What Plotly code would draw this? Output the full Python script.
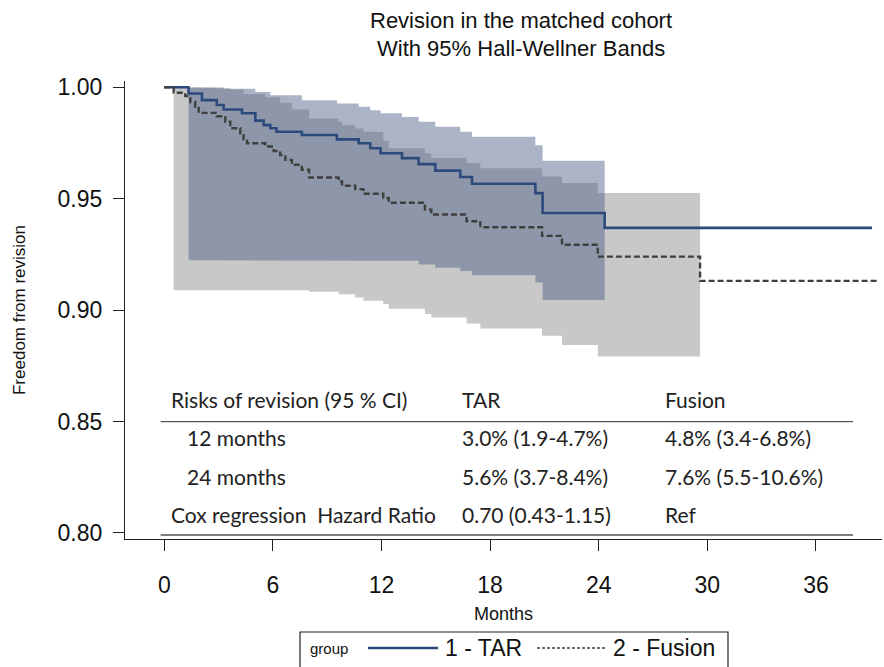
import plotly.graph_objects as go

# ---------------- data ----------------
# Kaplan-Meier step estimates (months, freedom from revision after each step)
tar_time = [0, 1.34, 2.08, 2.9, 3.28, 4.29, 5.03, 5.49, 5.86, 6.2, 7.6, 9.54, 10.74,
            11.38, 11.95, 13.13, 14.05, 14.97, 16.35, 17.0, 20.5, 20.9, 24.33]
tar_surv = [1.0, 0.9972, 0.9942, 0.992, 0.990, 0.9883, 0.985, 0.983, 0.9816, 0.980,
            0.9786, 0.9766, 0.9749, 0.9726, 0.9704, 0.9682, 0.9655, 0.9626, 0.9597,
            0.9567, 0.9525, 0.9436, 0.9369]
tar_last_time = 39.1

fus_time = [0, 0.52, 1.16, 1.44, 1.71, 1.9, 2.9, 3.37, 3.65, 4.2, 4.38, 4.57, 5.58,
            6.04, 6.4, 6.69, 7.05, 7.6, 8.0, 9.63, 9.82, 10.55, 11.0, 12.1, 12.4, 14.4,
            14.75, 16.7, 17.46, 20.87, 21.97, 23.95, 29.6]
fus_surv = [1.0, 0.9975, 0.996, 0.9934, 0.9912, 0.9885, 0.987, 0.9845, 0.9816, 0.9793,
            0.9766, 0.9749, 0.9734, 0.9714, 0.9696, 0.9674, 0.9652, 0.963, 0.9595,
            0.9577, 0.9558, 0.9543, 0.9522, 0.9503, 0.9482, 0.9451, 0.9429, 0.9399,
            0.9372, 0.9333, 0.9293, 0.924, 0.9131]
fus_last_time = 39.4

# Hall-Wellner 95% bands
tar_band_time = [1.34, 3.28, 5.03, 5.86, 7.6, 9.54, 10.74, 11.38, 11.95, 13.13, 14.05,
                 14.97, 16.35, 17.0, 20.5, 20.9]
tar_band_upper = [0.9999, 0.9993, 0.9979, 0.9964, 0.9942, 0.9927, 0.9912, 0.9897,
                  0.9883, 0.9867, 0.9845, 0.9823, 0.980, 0.9778, 0.974, 0.967]
tar_band_lower = [0.9224, 0.9224, 0.9224, 0.9224, 0.9224, 0.9224, 0.9224, 0.9223,
                  0.9222, 0.9221, 0.9205, 0.919, 0.9176, 0.9156, 0.9124, 0.9045]
tar_band_end = 24.33

fus_band_time = [0.52, 1.9, 2.9, 3.65, 4.38, 5.58, 6.4, 7.05, 8.0, 9.63, 9.82, 10.55,
                 11.0, 12.1, 12.4, 14.4, 14.75, 16.7, 17.46, 20.87, 21.97, 23.95]
fus_band_upper = [0.99995, 0.9998, 0.9995, 0.999, 0.997, 0.9955, 0.993, 0.990, 0.986,
                  0.9845, 0.983, 0.9815, 0.980, 0.976, 0.9726, 0.9704, 0.9682, 0.966,
                  0.9637, 0.960, 0.957, 0.9525]
fus_band_lower = [0.9089, 0.9089, 0.9089, 0.9089, 0.9089, 0.9089, 0.9089, 0.9089,
                  0.9082, 0.9071, 0.9071, 0.9057, 0.9042, 0.9027, 0.9006, 0.8982,
                  0.8967, 0.894, 0.8918, 0.8885, 0.8844, 0.8792]
fus_band_end = 29.6

x_ticks = [0, 6, 12, 18, 24, 30, 36]
y_ticks = [0.80, 0.85, 0.90, 0.95, 1.00]

title_lines = ["Revision in the matched cohort", "With 95% Hall-Wellner Bands"]
legend_title = "group"
series_names = ["1 - TAR", "2 - Fusion"]

table_header = ["Risks of revision (95 % CI)", "TAR", "Fusion"]
table_rows = [
    ["12 months", "3.0% (1.9-4.7%)", "4.8% (3.4-6.8%)"],
    ["24 months", "5.6% (3.7-8.4%)", "7.6% (5.5-10.6%)"],
    ["Cox regression\u00a0\u00a0Hazard Ratio", "0.70 (0.43-1.15)", "Ref"],
]

# ---------------- layout geometry (pixels) ----------------
W, H = 884, 667
ML, MR, MT, MB = 125, 2, 81, 128
PW, PH = W - ML - MR, H - MT - MB


def px(x):
    return (x - ML) / PW


def py(y):
    return (H - MB - y) / PH


def band_polygon(t, lo, hi, t_end):
    edges = list(t) + [t_end]
    xu, yu, xl, yl = [], [], [], []
    for i in range(len(t)):
        xu += [edges[i], edges[i + 1]]
        yu += [hi[i], hi[i]]
        xl += [edges[i], edges[i + 1]]
        yl += [lo[i], lo[i]]
    return xu + xl[::-1], yu + yl[::-1]


TAR_COLOR = "#2c4a7c"
FUS_COLOR = "#3f3f3f"
SANS = "Liberation Sans, Arial, sans-serif"

fig = go.Figure()

fx, fy = band_polygon(fus_band_time, fus_band_lower, fus_band_upper, fus_band_end)
fig.add_trace(go.Scatter(x=fx, y=fy, fill="toself", fillcolor="rgb(200,200,200)",
                         line=dict(width=0), mode="lines", showlegend=False,
                         hoverinfo="skip"))
tx, ty = band_polygon(tar_band_time, tar_band_lower, tar_band_upper, tar_band_end)
fig.add_trace(go.Scatter(x=tx, y=ty, fill="toself", fillcolor="rgba(80,98,135,0.48)",
                         line=dict(width=0), mode="lines", showlegend=False,
                         hoverinfo="skip"))

fig.add_trace(go.Scatter(x=tar_time + [tar_last_time], y=tar_surv + [tar_surv[-1]],
                         mode="lines", line=dict(shape="hv", color=TAR_COLOR, width=2.6),
                         name=series_names[0], showlegend=False))
fig.add_trace(go.Scatter(x=fus_time + [fus_last_time], y=fus_surv + [fus_surv[-1]],
                         mode="lines",
                         line=dict(shape="hv", color=FUS_COLOR, width=2.4, dash="6px,3px"),
                         name=series_names[1], showlegend=False))

# ---- title (two lines) ----
for txt, ypix in zip(title_lines, [21, 48]):
    fig.add_annotation(xref="paper", yref="paper", x=px(521), y=py(ypix), text=txt,
                       showarrow=False, xanchor="center", yanchor="middle",
                       font=dict(family=SANS, size=22, color="#111111"))

# ---- embedded table ----
tfont = dict(family="Lato, Open Sans, sans-serif", size=21, color="#222222")
col_x = [0.26, 16.34, 27.55]
row_y = [0.8598, 0.8428, 0.8253, 0.8083]
indent_x = 1.14
for j, txt in enumerate(table_header):
    fig.add_annotation(x=col_x[j], y=row_y[0], text=txt, showarrow=False,
                       xanchor="left", yanchor="middle", font=tfont)
for i, row in enumerate(table_rows):
    for j, txt in enumerate(row):
        xx = col_x[j]
        if j == 0 and i < 2:
            xx = indent_x
        fig.add_annotation(x=xx, y=row_y[i + 1], text=txt, showarrow=False,
                           xanchor="left", yanchor="middle", font=tfont)
for yy in [0.8500, 0.7991]:
    fig.add_shape(type="line", xref="x", yref="y", x0=-0.2, x1=38.05, y0=yy, y1=yy,
                  line=dict(color="#555555", width=1.3))

# ---- legend box (drawn below the plot) ----
LEG_Y = 648
fig.add_shape(type="rect", xref="paper", yref="paper", x0=px(300), x1=px(728),
              y0=py(632), y1=py(700), line=dict(color="#222222", width=1.2),
              fillcolor="white", layer="above")
fig.add_annotation(xref="paper", yref="paper", x=px(308), y=py(LEG_Y), text=legend_title,
                   showarrow=False, xanchor="left", yanchor="middle",
                   font=dict(family=SANS, size=15, color="#111111"))
fig.add_shape(type="line", xref="paper", yref="paper", x0=px(368), x1=px(438),
              y0=py(LEG_Y), y1=py(LEG_Y), line=dict(color=TAR_COLOR, width=2.4))
fig.add_annotation(xref="paper", yref="paper", x=px(443), y=py(LEG_Y),
                   text=series_names[0], showarrow=False, xanchor="left",
                   yanchor="middle", font=dict(family=SANS, size=23, color="#111111"))
fig.add_shape(type="line", xref="paper", yref="paper", x0=px(537), x1=px(607),
              y0=py(LEG_Y), y1=py(LEG_Y),
              line=dict(color=FUS_COLOR, width=1.6, dash="3px,2px"))
fig.add_annotation(xref="paper", yref="paper", x=px(611), y=py(LEG_Y),
                   text=series_names[1], showarrow=False, xanchor="left",
                   yanchor="middle", font=dict(family=SANS, size=23, color="#111111"))

axis_font = dict(family=SANS, size=23, color="#111111")
fig.update_layout(
    width=W, height=H,
    margin=dict(l=ML, r=MR, t=MT, b=MB),
    paper_bgcolor="white", plot_bgcolor="white",
    showlegend=False,
)
fig.update_xaxes(range=[-2.17, 39.65], tickvals=x_ticks, ticks="outside", ticklen=11,
                 tickwidth=1.3, tickcolor="#222222", showline=True, linecolor="#222222",
                 linewidth=1.3, showgrid=False, zeroline=False, tickfont=axis_font,
                 ticklabelstandoff=14,
                 title=dict(text="Months", standoff=10,
                            font=dict(family=SANS, size=18, color="#111111")))
fig.update_yaxes(range=[0.7973, 1.0028], tickvals=y_ticks, tickformat=".2f",
                 ticks="outside", ticklen=11, tickwidth=1.3, tickcolor="#222222",
                 showline=True, linecolor="#222222", linewidth=1.3, showgrid=False,
                 zeroline=False, tickfont=axis_font, ticklabelstandoff=6,
                 title=dict(text="Freedom from revision", standoff=27,
                            font=dict(family=SANS, size=17, color="#111111")))

fig.write_html("out.html")
